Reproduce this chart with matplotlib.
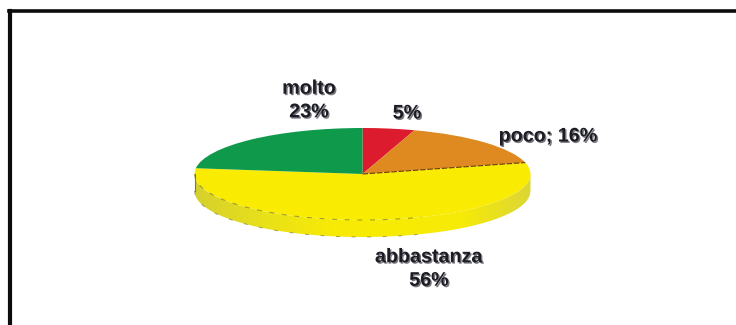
import numpy as np
import matplotlib
matplotlib.use('Agg')
import matplotlib.pyplot as plt
import matplotlib.patheffects as pe
from matplotlib.colors import LinearSegmentedColormap

categorie = ["", "poco", "abbastanza", "molto"]
percentuali = [5, 16, 56, 23]
colori = ['#dc1c2e', '#de8a20', '#f9ec02', '#0e9a4a']

W, H = 736, 325
cx, cy = 362.5, 174
rx, ry = 168, 46
spessore = 17 / ry

fig = plt.figure(figsize=(W / 100, H / 100), dpi=100, facecolor='white')

# cornice in alto e a sinistra
fig.add_artist(plt.Line2D([10 / W, 10 / W], [0, 1 - 11 / H], color='#0c0c0c', lw=3))
fig.add_artist(plt.Line2D([8.9 / W, 1], [1 - 11 / H, 1 - 11 / H], color='#0c0c0c', lw=2.6))

# assi con x,y in [-1,1] sulla faccia superiore della torta
margine = 1.1
ax_w = 2 * rx * margine
ax_h = ry * (margine + 1 + spessore + 0.1)
ax = fig.add_axes([(cx - ax_w / 2) / W, 1 - (cy - margine * ry + ax_h) / H, ax_w / W, ax_h / H])

# bordo laterale con sfumatura
x = np.linspace(-1, 1, 400)
sopra = -np.sqrt(1 - x ** 2)
sotto = sopra - spessore
bordo = ax.fill_between(x, sopra, sotto, color='none', linewidth=0)
sfumatura = LinearSegmentedColormap.from_list('rim', ['#d6d02e', '#e8e01a', '#f7ea06', '#f8ec04', '#f6ea08', '#dcd636'])
img = ax.imshow(np.linspace(0, 1, 256).reshape(1, -1), cmap=sfumatura, aspect='auto',
                extent=[-1, 1, -1 - spessore, 0], zorder=1)
img.set_clip_path(bordo.get_paths()[0], transform=ax.transData)

ax.pie(percentuali, colors=colori, startangle=90, counterclock=False, radius=1,
       wedgeprops={'linewidth': 0, 'zorder': 2})

# linee scure spezzate lungo i bordi, solo nella parte sinistra e centrale
sx = x < 0.35
ax.plot(x[sx], sopra[sx], color='#5a5a20', lw=0.7, ls=(0, (5, 8)), alpha=0.6, zorder=3)
ax.plot(x[sx], sotto[sx], color='#6a6a20', lw=0.7, ls=(0, (4, 12)), alpha=0.6, zorder=3)
ang = np.deg2rad(360 * 0.21)
ax.plot([0, np.sin(ang)], [0, np.cos(ang)], color='#6a3a10', lw=0.8, ls=(0, (5, 1.5)), zorder=3)
ax.plot([-1, -1], [-spessore, 0], color='#555544', lw=0.8, alpha=0.7, zorder=3)

ax.set_aspect('auto')
ax.set_xlim(-margine, margine)
ax.set_ylim(-1 - spessore - 0.1, margine)
ax.axis('off')

# etichette
ombra = [pe.withSimplePatchShadow(offset=(1, -1), shadow_rgbFace='#606068', alpha=0.85)]
etichette = [("molto\n23%", 309, 100), ("5%", 407, 113), ("poco; 16%", 548, 136), ("abbastanza\n56%", 429, 268.5)]
for testo, tx, ty in etichette:
    fig.text(tx / W, 1 - ty / H, testo, ha='center', va='center', ma='center', linespacing=1.3,
             fontsize=14.2, fontweight='bold', family='Liberation Sans', color='#1c1c24', path_effects=ombra)

fig.savefig('out.png', dpi=100)
